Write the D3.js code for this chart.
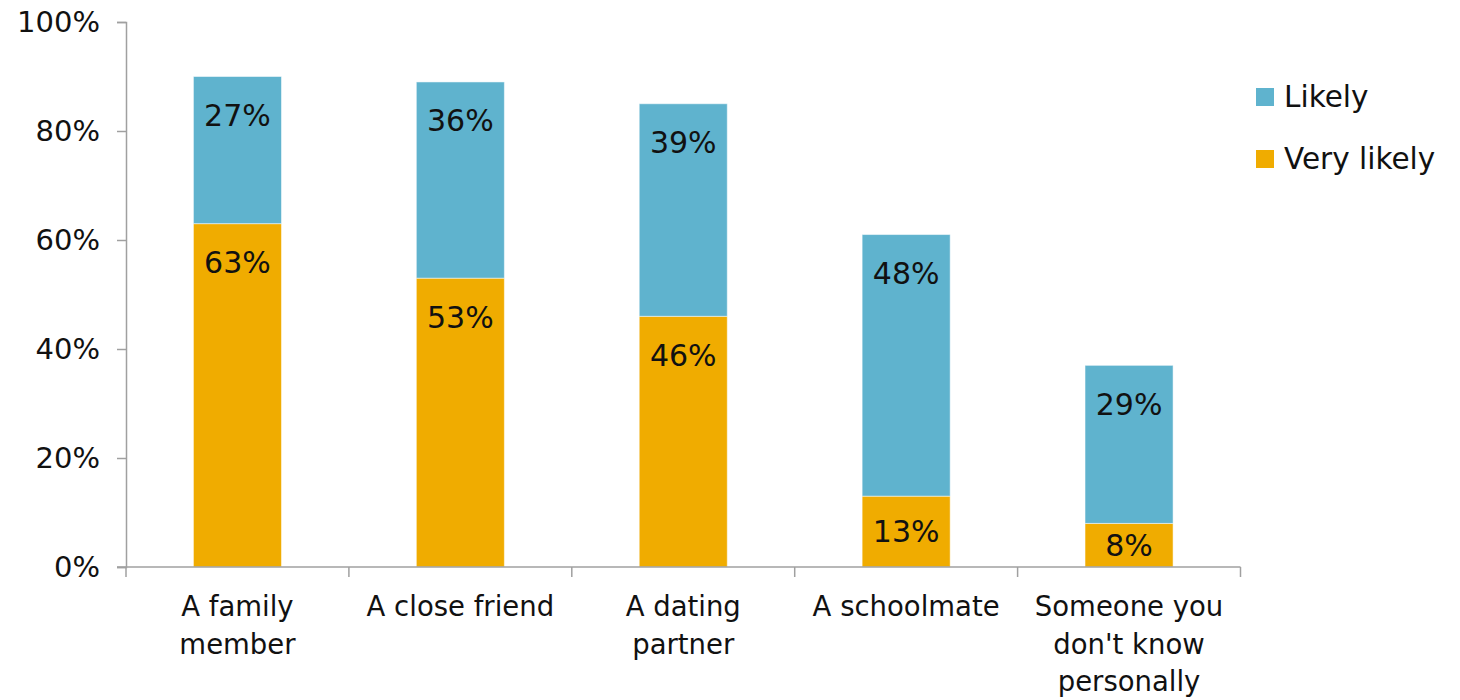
<!DOCTYPE html>
<html>
<head>
<meta charset="utf-8">
<script src="https://cdn.jsdelivr.net/npm/d3@7"></script>
<style>
  html, body { margin: 0; padding: 0; background: #fff; }
  svg text { font-family: "DejaVu Sans", sans-serif; fill: #111; }
</style>
</head>
<body>
<svg id="chart" width="1460" height="700"></svg>
<script>
// Who would a young person tell — share of respondents by likelihood
const categories = ["A family member", "A close friend", "A dating partner", "A schoolmate", "Someone you don't know personally"];
const categoryLines = [["A family", "member"], ["A close friend"], ["A dating", "partner"], ["A schoolmate"], ["Someone you", "don't know", "personally"]];
const veryLikely = [63, 53, 46, 13, 8];
const likely = [27, 36, 39, 48, 29];
const seriesNames = ["Likely", "Very likely"];
const yTicks = [0, 20, 40, 60, 80, 100];

const colors = { "Very likely": "#F0AC00", "Likely": "#5FB3CE" };

const svg = d3.select("#chart");
const x0 = 126, x1 = 1240.5, y0 = 567, y1 = 22;

const x = d3.scaleBand().domain(categories).range([x0, x1]).paddingInner(0.605).paddingOuter(0.3025);
const y = d3.scaleLinear().domain([0, 100]).range([y0, y1]);

const rows = categories.map((c, i) => ({ category: c, "Very likely": veryLikely[i], "Likely": likely[i] }));
const stack = d3.stack().keys(["Very likely", "Likely"]);
const layers = stack(rows);

// stacked bars
const g = svg.append("g");
layers.forEach(layer => {
  const key = layer.key;
  g.selectAll(null).data(layer).enter().append("rect")
    .attr("x", d => x(d.data.category))
    .attr("width", x.bandwidth())
    .attr("y", d => y(d[1]))
    .attr("height", d => y(d[0]) - y(d[1]))
    .attr("fill", colors[key])
    .attr("stroke", "#ffffff")
    .attr("stroke-opacity", 0.5)
    .attr("stroke-width", 1);
});

// value labels near the inside end of each segment
layers.forEach(layer => {
  g.selectAll(null).data(layer).enter().append("text")
    .attr("x", d => x(d.data.category) + x.bandwidth() / 2)
    .attr("y", d => {
      const top = y(d[1]), bot = y(d[0]);
      return Math.min(top + 39, (top + bot) / 2);
    })
    .attr("text-anchor", "middle")
    .attr("dominant-baseline", "central")
    .style("font-size", "30px")
    .text(d => (d[1] - d[0]) + "%");
});

// y axis
const axisColor = "#A0A0A0";
const yAxis = svg.append("g").attr("transform", `translate(${x0},0)`)
  .call(d3.axisLeft(y).tickValues(yTicks).tickFormat(d => d + "%").tickSize(9).tickPadding(17));
yAxis.select(".domain").attr("stroke", axisColor).attr("stroke-width", 1.5);
yAxis.selectAll(".tick line").attr("stroke", axisColor).attr("stroke-width", 1.5);
yAxis.selectAll(".tick text").style("font-size", "29px").attr("fill", "#111").attr("font-family", null);

// x axis with ticks at category boundaries
const xAxisG = svg.append("g");
xAxisG.append("line").attr("x1", x0 - 9).attr("x2", x1).attr("y1", y0).attr("y2", y0)
  .attr("stroke", axisColor).attr("stroke-width", 1.5);
const step = x.step();
d3.range(categories.length + 1).forEach(i => {
  const bx = x0 + i * step;
  xAxisG.append("line").attr("x1", bx).attr("x2", bx).attr("y1", y0).attr("y2", y0 + 10)
    .attr("stroke", axisColor).attr("stroke-width", 1.5);
});
categories.forEach((c, i) => {
  const t = xAxisG.append("text")
    .attr("x", x(c) + x.bandwidth() / 2)
    .attr("y", 616)
    .attr("text-anchor", "middle")
    .style("font-size", "27.5px");
  categoryLines[i].forEach((line, j) => {
    t.append("tspan").attr("x", x(c) + x.bandwidth() / 2).attr("y", 616 + j * 37.5).text(line);
  });
});

// legend
const legend = svg.append("g");
seriesNames.forEach((name, i) => {
  const ly = 97 + i * 62;
  legend.append("rect").attr("x", 1256).attr("y", ly - 9).attr("width", 18).attr("height", 18).attr("fill", colors[name]);
  legend.append("text").attr("x", 1284).attr("y", ly).attr("dominant-baseline", "central")
    .style("font-size", "29.5px").text(name);
});
</script>
</body>
</html>
